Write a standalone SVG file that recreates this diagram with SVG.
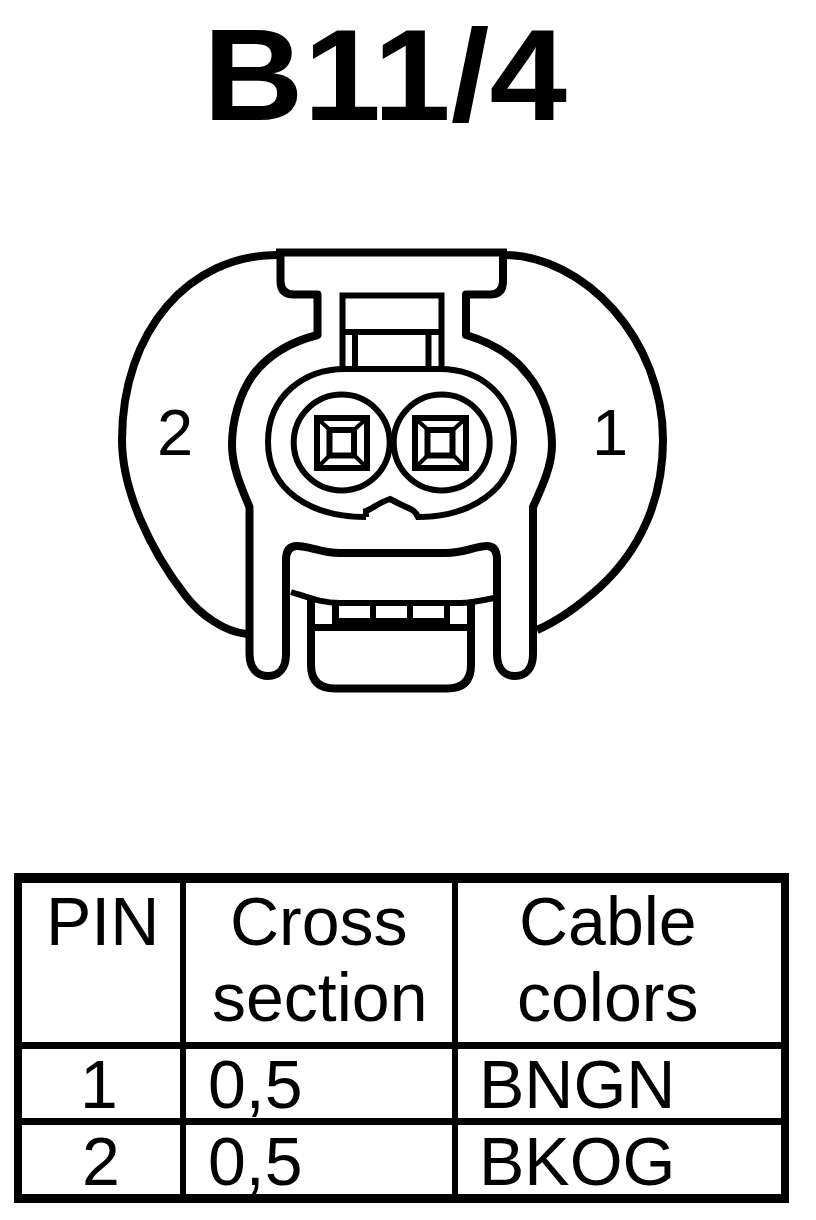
<svg xmlns="http://www.w3.org/2000/svg" width="816" height="1220" viewBox="0 0 816 1220">
<style>
.l{fill:none;stroke:#000;stroke-width:8;stroke-linejoin:round}
.m{fill:none;stroke:#000;stroke-width:6}
.t{fill:#000;font-family:"Liberation Sans",Arial,sans-serif;font-size:68px}
.b{fill:#000;stroke:none}
</style>
<rect width="816" height="1220" fill="#fff"/>
<text id="title" x="203" y="120" textLength="364" lengthAdjust="spacingAndGlyphs" style="fill:#000;font-family:'Liberation Sans',Arial,sans-serif;font-size:130px;font-weight:bold">B11/4</text>
<g id="connector">
<path class="l" d="M277 255C190 255 122 330 122 440C122 490 150 550 185 595C200 615 225 632 247 634"/>
<path class="l" d="M503 255C585 255 663 340 663 440C663 500 640 550 600 587C580 605 560 620 537 630"/>
<path class="l" d="M276 252.500H507"/>
<path class="l" d="M280.500 252V281Q280.500 294.500 294 294.500H317.500V335C290 342 268 355 253 375C240 393 232 420 232 445C232 465 240 485 249.500 507V654C249.500 668 257 676 268 676C279 676 286 668 286 654V560Q286 546 297 546C310 546 320 553 340 553H445C465 553 475 546 487 546Q497 546 497 560V654C497 668 504 676 515 676C526 676 533 668 533 654V507C543 485 552 465 552 445C552 420 543 393 528 375C513 355 490 342 466 335V294.500H490Q503 294.500 503 281V252"/>
<path class="m" d="M342.500 369V295.500H441.500V369M342.500 332H441.500M355 332V369M428.500 332V369"/>
<path class="m" d="M366 517C310 517 268 490 268 442C268 395 305 369 345 369H440C480 369 514 395 514 442C514 490 470 517 418 517C414 508 410 510 390 499C378 503 372 509 366 511V517"/>
<circle class="m" cx="341.700" cy="442.500" r="48"/>
<circle class="m" cx="441.700" cy="442.500" r="48"/>
<rect class="m" x="317" y="418" width="50" height="50"/>
<rect class="m" x="415" y="418" width="51" height="50"/>
<rect class="m" x="329.500" y="430" width="24.500" height="25.500"/>
<rect class="m" x="427.500" y="430" width="25" height="25.500"/>
<path class="m" style="stroke-width:4" d="M317 418L330 430M367 418L354 430M317 468L330 455M367 468L354 455M415 418L428 430M466 418L453 430M415 468L428 455M466 468L453 455"/>
<path class="m" d="M291 592C310 598 322 603 340 603H460C470 603 480 601 494 598"/>
<path class="l" d="M311 600V665Q311 688.500 335 688.500H447Q471 688.500 471 665V600"/>
<rect class="b" x="311" y="624" width="160" height="7"/>
<rect class="b" x="332" y="618" width="118" height="13"/>
<rect class="b" x="332" y="603" width="7" height="20"/>
<rect class="b" x="370" y="603" width="6" height="20"/>
<rect class="b" x="407" y="603" width="6" height="20"/>
<rect class="b" x="444" y="603" width="6" height="20"/>
<text class="t" x="157" y="455" style="font-size:65px">2</text>
<text class="t" x="592" y="455" style="font-size:65px">1</text>
</g>
<g id="table">
<rect class="b" x="14" y="873" width="775" height="10"/>
<rect class="b" x="14" y="1194" width="775" height="9"/>
<rect class="b" x="14" y="873" width="8" height="330"/>
<rect class="b" x="781" y="873" width="8" height="330"/>
<rect class="b" x="180" y="873" width="6" height="330"/>
<rect class="b" x="452" y="873" width="6" height="330"/>
<rect class="b" x="14" y="1042" width="775" height="7"/>
<rect class="b" x="14" y="1118" width="775" height="7"/>
<text class="t" x="46" y="945">PIN</text>
<text class="t" x="230" y="945">Cross</text>
<text class="t" x="212" y="1021">section</text>
<text class="t" x="519" y="945">Cable</text>
<text class="t" x="517" y="1021">colors</text>
<text class="t" x="80" y="1108">1</text>
<text class="t" x="82" y="1185">2</text>
<text class="t" x="208" y="1108">0,5</text>
<text class="t" x="208" y="1185">0,5</text>
<text class="t" x="479" y="1108">BNGN</text>
<text class="t" x="479" y="1185">BKOG</text>
</g>
</svg>
